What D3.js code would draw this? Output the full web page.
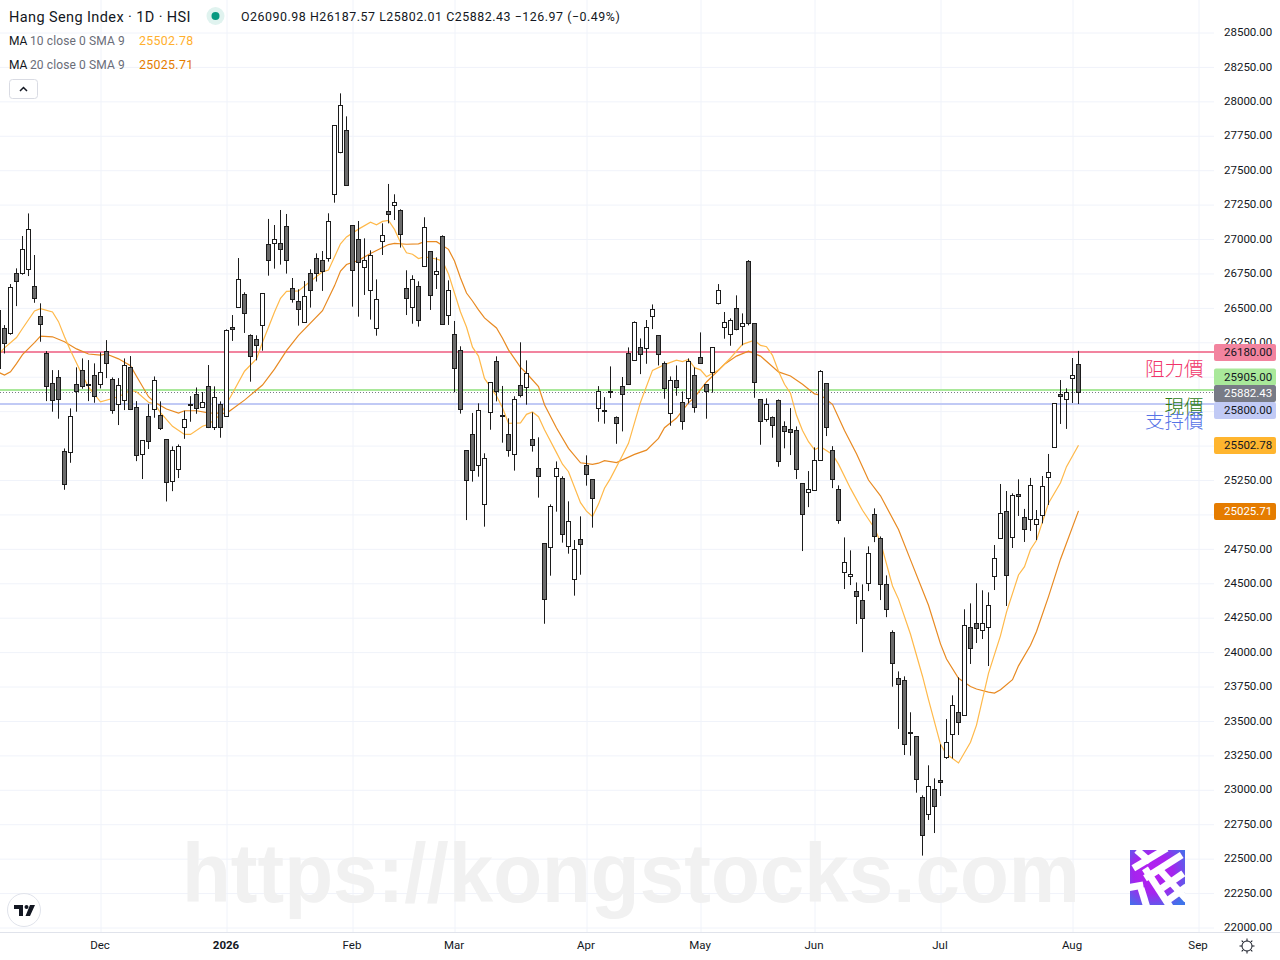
<!DOCTYPE html>
<html>
<head>
<meta charset="utf-8">
<title>Hang Seng Index</title>
<script src="https://cdn.jsdelivr.net/npm/d3@7"></script>
<style>
  html, body { margin: 0; padding: 0; background: #fff; }
  svg { display: block; font-family: Roboto, sans-serif; }
</style>
</head>
<body>
<div id="chart"></div>
<script>
// daily candles, first one is cut off by the left edge of the pane
const open = [26484,26351,26315,26750,26750,26779,26656,26438,26169,25951,25995,25458,25450,25944,26046,25944,26010,25944,26184,25980,25799,25828,26068,25777,25436,25712,25763,25719,25545,25240,25327,25632,25799,25872,25777,25930,25632,25799,25712,
  26359,26504,26599,26301,26272,26373,26962,26969,26969,27092,26642,26548,26395,26751,26860,26846,26860,27325,27630,27790,27100,26998,26795,26628,26352,26984,27201,27245,27209,26642,26504,26657,26802,26911,26744,27020,26446,
  26308,26192,25465,25582,25356,25073,25741,26112,25720,25582,25436,25937,25923,25545,25335,24790,24761,25277,25262,24768,24528,24819,25356,25255,
  25770,25755,25893,25705,25930,26169,26119,26213,26206,26438,26300,26097,25734,25973,25814,25843,26010,26140,25944,26031,26533,26358,26307,26496,26366,26838,26387,25835,25690,25705,25828,25639,25618,25610,25225,25160,25174,
  25392,25952,25465,25182,24579,24550,24441,24375,24499,25000,24826,24492,
  24144,23810,23795,23417,23388,22945,22822,23003,23069,23236,23403,23563,23541,24180,24209,24158,24180,
  24550,24826,25023,24834,25146,24979,24964,24928,24994,25270,25487,25872,25836,25989,26090.98];
const high = [26508,26375,26673,26787,27022,27186,26884,26533,26186,26048,26048,25479,25770,26068,26133,26121,26097,26177,26266,25995,25990,26133,26150,25823,25537,25801,26002,25821,25545,25494,25508,25753,25859,25922,25889,26085,25930,25821,26344,
  26448,26862,26613,26308,26301,26606,27146,27102,27211,27182,26717,26635,26695,26780,26896,26913,27187,27826,28058,27891,27100,27131,27005,26918,26707,27114,27400,27325,27216,26773,26737,26693,27158,26911,26867,27027,26700,
  26405,26221,25465,25737,25807,25444,25959,26148,25933,25698,25858,26250,26119,25741,25560,24790,25073,25385,25277,25095,24814,24986,25429,25255,
  25932,25852,26075,25712,25998,26213,26402,26278,26412,26525,26300,26111,26002,26082,25893,26133,26068,26322,25944,26213,26673,26470,26424,26591,26460,26847,26387,25835,25843,25712,25835,25676,25772,25639,25225,25315,25487,
  26048,25952,25496,25211,24833,24739,24506,24492,24768,25044,24840,24557,
  24158,23860,23824,23563,23388,22960,23178,23083,23330,23514,23686,23817,24311,24354,24500,24449,24434,
  24778,25221,25170,25153,25255,25040,25265,25032,25279,25439,25807,25976,25916,26136,26187.57];
const low = [26024,26169,26305,26513,26741,26731,26537,26254,25823,25746,25695,25179,25375,25746,25913,25823,25811,25915,25990,25731,25649,25758,25758,25387,25257,25475,25702,25613,25094,25169,25264,25549,25673,25731,25777,25627,25613,25557,25709,
  26260,26502,26318,25964,26119,26189,26734,26785,26814,26749,26538,26371,26393,26502,26691,26623,26836,27264,27623,27388,26509,26436,26594,26415,26298,26884,27114,27138,26938,26448,26385,26364,26800,26485,26637,26378,26376,
  25887,25732,24959,25238,25274,24911,25615,25821,25521,25419,25318,25850,25797,25456,25122,24206,24555,25020,24795,24715,24410,24562,25209,24904,
  25673,25659,25845,25513,25603,25942,26116,26019,26094,26346,26082,25840,25644,25862,25615,25806,25739,26094,25695,25884,26525,26276,26225,26337,26228,26373,25847,25506,25673,25557,25346,25480,25431,25257,24734,25053,25172,
  25390,25569,25191,24932,24458,24487,24204,24000,24443,24799,24378,24254,
  23749,23442,23253,23248,22979,22522,22781,22686,22955,23224,23228,23398,23538,23914,24066,24095,23899,
  24451,24824,24335,24756,24989,24800,24880,24814,24935,25069,25485,25657,25621,25809,25802.01];
const close = [26060,26242,26649,26692,26925,27070,26569,26380,25930,25828,25835,25218,25712,25893,25930,25939,25857,26031,26097,25755,25937,26082,25763,25429,25537,25530,25973,25625,25232,25465,25494,25690,25792,25770,25813,25632,25850,25632,26336,
  26344,26707,26461,26148,26228,26606,26846,26998,26925,26846,26562,26490,26584,26628,26751,26766,27129,27826,27971,27390,26773,26831,26846,26882,26562,27027,27180,27267,27034,26570,26707,26410,27085,26591,26766,26381,26628,
  26061,25763,25247,25320,25756,25407,25959,25894,25712,25465,25836,25865,26025,25502,25277,24383,25059,25335,24855,24950,24746,24783,25291,25117,
  25893,25748,25889,25661,25872,25944,26395,26162,26358,26489,26162,25915,25973,25923,25676,26111,25777,26097,25893,26213,26627,26395,26409,26344,26387,26387,25959,25676,25799,25647,25385,25603,25596,25327,25000,25182,25392,
  26039,25632,25254,24956,24651,24564,24405,24245,24717,24840,24492,24310,
  23918,23766,23330,23410,23076,22669,23025,22880,23054,23345,23613,23490,24194,24027,24173,24209,24340,
  24681,25008,24558,25139,25132,24892,25211,24964,25204,25306,25807,25858,25887,26010,25882.43];

// moving averages at these bars
const ma10Bars = [-1,0,2,3,5,6,8,9,10,11,12,13,14,16,18,19,21,22,24,25,26,28,30,31,33,34,36,38,40,42,43,44,45,46,47,49,51,53,54,56,57,59,61,62,63,64,65,66,67,68,69,70,72,73,74,75,76,77,78,79,80,82,83,84,86,87,88,89,90,92,93,94,96,97,98,99,100,101,103,104,106,108,110,112,113,114,115,116,117,119,121,123,125,126,127,128,129,130,131,132,133,134,135,136,138,139,141,143,145,146,148,149,151,153,154,156,157,159,161,162,164,166,167,169,170,171,172,174,176,177,179];
const ma10 = [26160,26210,26285,26350,26478,26494,26470,26400,26290,26190,26100,26008,25925,25818,25842,25855,25900,25891,25815,25803,25740,25640,25581,25581,25640,25654,25725,25880,26040,26130,26250,26360,26470,26570,26620,26623,26693,26762,26775,26965,27015,27072,27122,27103,27128,27136,27070,26975,26900,26890,26858,26870,26855,26840,26746,26608,26470,26361,26215,26150,25988,25860,25775,25661,25665,25727,25744,25710,25615,25449,25365,25310,25085,25024,24985,25075,25190,25262,25430,25516,25815,26046,26088,26120,26110,26126,26066,26050,26000,26048,26136,26235,26265,26228,26218,26155,26040,25945,25880,25720,25610,25528,25470,25492,25435,25365,25189,25030,24900,24800,24480,24385,24130,23825,23655,23330,23260,23195,23345,23470,23846,24120,24290,24560,24621,24745,24812,25081,25230,25347,25502.78];
const ma20Bars = [-1,0,1,2,3,5,6,8,10,12,14,16,17,19,21,22,24,25,27,29,30,32,34,37,40,43,45,47,49,53,55,56,57,59,61,64,65,67,69,70,72,74,75,76,77,78,79,80,81,82,83,84,86,87,89,90,92,94,96,98,99,100,102,105,107,109,110,112,114,115,117,120,122,124,126,129,131,133,135,136,138,140,142,144,146,149,151,154,156,157,159,161,162,164,165,166,168,169,171,172,174,176,179];
const ma20 = [26032,26012,26036,26095,26160,26248,26295,26290,26254,26202,26165,26157,26165,26130,26080,26004,25855,25815,25766,25736,25753,25753,25737,25734,25830,25940,26055,26190,26300,26480,26660,26767,26815,26845,26895,26960,26968,26962,26965,26981,26981,26925,26840,26717,26608,26550,26485,26427,26390,26354,26280,26195,26068,26025,25928,25797,25628,25480,25375,25364,25372,25390,25377,25436,25467,25552,25630,25700,25810,25850,25962,26090,26150,26186,26150,26035,26005,25945,25875,25867,25800,25610,25440,25250,25135,24890,24670,24340,24060,23950,23810,23750,23732,23710,23703,23727,23800,23900,24050,24150,24403,24675,25025.71];

const priceTicks = d3.range(22000, 28501, 250);
const monthBars = [16, 37, 58, 75, 97, 116, 135, 156, 178, 199];
const monthLabels = ["Dec", "2026", "Feb", "Mar", "Apr", "May", "Jun", "Jul", "Aug", "Sep"];

// drawn price levels
const levelValues = [26180, 25905, 25800];
const levelColors = ["#f2849f", "#a9e89a", "#c1caf5"];
const lastClose = 25882.43;
const ma10Last = 25502.78;
const ma20Last = 25025.71;

const w = 1280;
const h = 960;
const paneW = 1214;
const paneH = 932;

const x = d3.scaleLinear().domain([0, 179]).range([4.5, 1078.5]);
const y = d3.scaleLinear().domain([22000, 28500]).range([927.5, 32.5]);
const crisp = (v) => Math.round(v - 0.5) + 0.5;

const svg = d3.select("#chart").append("svg").attr("width", w).attr("height", h);

// grid comes from the axes with long ticks
svg.append("g")
   .call(d3.axisRight(y).tickValues(priceTicks).tickSize(paneW).tickFormat(""))
   .call((g) => g.select(".domain").remove())
   .selectAll("line").attr("stroke", "#f0f3fa");

svg.append("g")
   .call(d3.axisBottom(x).tickValues(monthBars).tickSize(paneH).tickFormat(""))
   .call((g) => g.select(".domain").remove())
   .selectAll("line").attr("stroke", "#f0f3fa");

// watermark
svg.append("text")
   .attr("x", 182)
   .attr("y", 902)
   .attr("textLength", 898)
   .attr("lengthAdjust", "spacingAndGlyphs")
   .style("font-family", "'Liberation Sans', sans-serif")
   .style("font-weight", "bold")
   .style("font-size", "84px")
   .attr("fill", "#f1f1f1")
   .text("https://kongstocks.com");

// site logo, square with white strokes
const defs = svg.append("defs");
const grad = defs.append("radialGradient")
   .attr("id", "logoGrad")
   .attr("cx", "0.42").attr("cy", "0.42").attr("r", "0.72");
grad.append("stop").attr("offset", "0").attr("stop-color", "#b81ff2");
grad.append("stop").attr("offset", "0.5").attr("stop-color", "#a524ee");
grad.append("stop").attr("offset", "1").attr("stop-color", "#3f74ea");
defs.append("clipPath").attr("id", "logoClip")
   .append("rect").attr("x", 1130).attr("y", 850).attr("width", 55).attr("height", 55);
const logo = svg.append("g").attr("clip-path", "url(#logoClip)");
logo.append("rect").attr("x", 1130).attr("y", 850).attr("width", 55).attr("height", 55).attr("fill", "url(#logoGrad)");
[
  [1136.7, 850, 1150, 861.7], [1133.3, 868.3, 1166.7, 848.3], [1145, 878.3, 1181.7, 855],
  [1145, 868.3, 1170, 906.7], [1158, 868, 1187, 900], [1128, 887.7, 1143.3, 885],
  [1146.7, 906.7, 1141, 888.3], [1161.7, 888.3, 1183.3, 873.3], [1168.3, 900, 1186.7, 886.7]
].forEach((s) => {
  logo.append("line")
     .attr("x1", s[0]).attr("y1", s[1]).attr("x2", s[2]).attr("y2", s[3])
     .attr("stroke", "#fff").attr("stroke-width", 7);
});

// level lines
svg.selectAll(".level")
   .data(levelValues)
   .enter()
   .append("line")
   .attr("class", "level")
   .attr("x1", 0)
   .attr("x2", paneW)
   .attr("y1", (d) => Math.round(y(d)))
   .attr("y2", (d) => Math.round(y(d)))
   .attr("stroke", (d, i) => levelColors[i])
   .attr("stroke-width", 2);

svg.append("line")
   .attr("x1", 0)
   .attr("x2", paneW)
   .attr("y1", crisp(y(lastClose)))
   .attr("y2", crisp(y(lastClose)))
   .attr("stroke", "#787b86")
   .attr("stroke-dasharray", "1,2");

// moving averages
const maLine = (bars) => d3.line().x((d, i) => x(bars[i])).y((d) => y(d));

svg.append("path")
   .datum(ma20)
   .attr("d", maLine(ma20Bars))
   .attr("fill", "none")
   .attr("stroke", "#e88a22")
   .attr("stroke-width", 1.2);

svg.append("path")
   .datum(ma10)
   .attr("d", maLine(ma10Bars))
   .attr("fill", "none")
   .attr("stroke", "#ffb94a")
   .attr("stroke-width", 1.2);

// candles
const bars = d3.range(open.length);
const candle = svg.selectAll(".candle")
   .data(bars)
   .enter()
   .append("g")
   .attr("class", "candle");

candle.append("line")
   .attr("x1", (i) => x(i - 1))
   .attr("x2", (i) => x(i - 1))
   .attr("y1", (i) => y(high[i]))
   .attr("y2", (i) => y(low[i]))
   .attr("stroke", "#1c1c1c");

candle.append("rect")
   .attr("x", (i) => x(i - 1) - 2)
   .attr("width", 4)
   .attr("y", (i) => crisp(y(Math.max(open[i], close[i]))))
   .attr("height", (i) => Math.max(1, crisp(y(Math.min(open[i], close[i]))) - crisp(y(Math.max(open[i], close[i])))))
   .attr("fill", (i) => close[i] < open[i] ? "#6b6b6b" : "#fff")
   .attr("stroke", "#1c1c1c");

// notes next to the levels
const noteFont = "'Noto Sans CJK TC', sans-serif";
svg.append("text").attr("x", 1203.5).attr("y", 375.5).attr("text-anchor", "end").attr("fill", "#f0346a")
   .style("font-family", noteFont).style("font-size", "19.5px").style("font-weight", 300).text("阻力價");
svg.append("text").attr("x", 1203.5).attr("y", 414).attr("text-anchor", "end").attr("fill", "#2c7a14")
   .style("font-family", noteFont).style("font-size", "19.5px").style("font-weight", 300).text("現價");
svg.append("text").attr("x", 1203.5).attr("y", 428).attr("text-anchor", "end").attr("fill", "#5673e6")
   .style("font-family", noteFont).style("font-size", "19.5px").style("font-weight", 300).text("支持價");

// price axis
svg.append("g")
   .attr("transform", "translate(1216,-0.5)")
   .call(d3.axisRight(y).tickValues(priceTicks).tickSize(0).tickPadding(8).tickFormat((d) => d.toFixed(2)))
   .call((g) => g.select(".domain").remove())
   .selectAll("text")
   .style("font-size", "11.5px")
   .style("font-family", "Roboto, sans-serif")
   .attr("fill", "#131722");

// tags sit on top of the axis labels
const tagValues = [levelValues[0], levelValues[1], lastClose, levelValues[2], ma10Last, ma20Last];
const tagFill = ["#f2849f", "#a9e89a", "#787b86", "#c1caf5", "#ffb52e", "#e57c00"];
const tagText = ["#131722", "#131722", "#fff", "#131722", "#131722", "#fff"];
const tagShift = [0.5, -13, 0.5, 6.5, 0.5, 0.5];

const tag = svg.selectAll(".tag")
   .data(tagValues)
   .enter()
   .append("g")
   .attr("class", "tag")
   .attr("transform", (d, i) => "translate(1214," + (Math.round(y(d)) + tagShift[i]) + ")");

tag.append("rect")
   .attr("y", -8.5)
   .attr("width", 62)
   .attr("height", 17)
   .attr("rx", 2)
   .attr("fill", (d, i) => tagFill[i]);

tag.append("text")
   .attr("x", 10)
   .attr("dy", "0.34em")
   .style("font-size", "11.5px")
   .attr("fill", (d, i) => tagText[i])
   .text((d) => d.toFixed(2));

// time axis
svg.append("line")
   .attr("x1", 0).attr("x2", w)
   .attr("y1", 932.5).attr("y2", 932.5)
   .attr("stroke", "#e0e3eb");

svg.append("g")
   .attr("transform", "translate(-1,933)")
   .call(d3.axisBottom(x).tickValues(monthBars).tickSize(0).tickPadding(8).tickFormat((d, i) => monthLabels[i]))
   .call((g) => g.select(".domain").remove())
   .selectAll("text")
   .style("font-size", "11.5px")
   .style("font-family", "Roboto, sans-serif")
   .style("font-weight", (d) => d === 37 ? "bold" : "normal")
   .attr("fill", "#131722");

// settings gear
const gear = svg.append("g").attr("transform", "translate(1247,946)");
gear.append("circle").attr("r", 5).attr("fill", "none").attr("stroke", "#131722");
d3.range(8).forEach((k) => {
  gear.append("line")
     .attr("y1", -5).attr("y2", -7.5)
     .attr("transform", "rotate(" + k * 45 + ")")
     .attr("stroke", "#131722");
});

// legend
svg.append("text").attr("x", 9).attr("y", 22).attr("fill", "#131722")
   .style("font-size", "14.5px").style("letter-spacing", "0.4px").text("Hang Seng Index · 1D · HSI");
svg.append("circle").attr("cx", 215.5).attr("cy", 16).attr("r", 9).attr("fill", "#e0f3ef");
svg.append("circle").attr("cx", 215.5).attr("cy", 16).attr("r", 4).attr("fill", "#089981");
svg.append("text").attr("x", 241).attr("y", 21).attr("fill", "#131722")
   .style("font-size", "12.4px").style("letter-spacing", "0.53px").text("O26090.98 H26187.57 L25802.01 C25882.43 −126.97 (−0.49%)");

const legendRows = ["10", "20"];
const legendValues = [ma10Last, ma20Last];
const legendColors = ["#ffb02e", "#e57c00"];
legendRows.forEach((n, i) => {
  const row = svg.append("g").attr("transform", "translate(9," + (45 + i * 24) + ")");
  row.append("text").attr("fill", "#131722").style("font-size", "12px").text("MA");
  row.append("text").attr("x", 21).attr("fill", "#6a6d78").style("font-size", "12px").style("letter-spacing", "0.12px").text(n + " close 0 SMA 9");
  row.append("text").attr("x", 130).attr("fill", legendColors[i]).style("font-size", "12.4px").style("letter-spacing", "0.3px").text(legendValues[i].toFixed(2));
});

svg.append("rect")
   .attr("x", 9.5).attr("y", 79.5).attr("width", 28).attr("height", 19).attr("rx", 3)
   .attr("fill", "#fff").attr("stroke", "#d9dbe3");
svg.append("path")
   .attr("d", "M20 91 L23.5 87.5 L27 91")
   .attr("fill", "none").attr("stroke", "#131722").attr("stroke-width", 1.5);

// TradingView badge
svg.append("circle").attr("cx", 24).attr("cy", 910).attr("r", 16.5)
   .attr("fill", "#fff").attr("stroke", "#e0e3eb");
svg.append("path")
   .attr("d", "M14 905 H23 V916 H19 V909 H14 Z M25.5 916 L30 905 H35 L30 916 Z")
   .attr("fill", "#131722");
svg.append("circle").attr("cx", 26.5).attr("cy", 907).attr("r", 2).attr("fill", "#131722");
</script>
</body>
</html>
